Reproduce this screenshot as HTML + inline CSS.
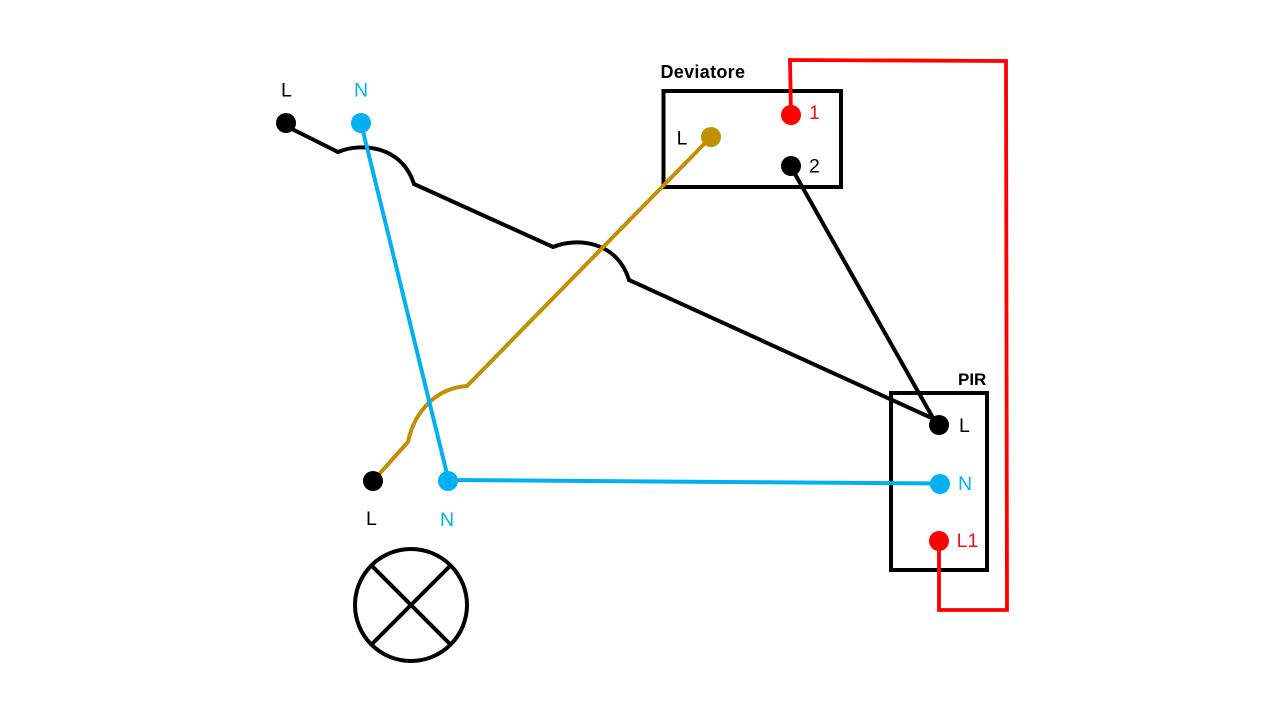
<!DOCTYPE html>
<html>
<head>
<meta charset="utf-8">
<style>
html,body{margin:0;padding:0;background:#fff;width:1280px;height:720px;overflow:hidden}
svg{display:block}
text{font-family:"Liberation Sans",sans-serif;font-size:19.5px}
text.b{font-size:18px;font-weight:bold}
</style>
</head>
<body>
<svg width="1280" height="720" viewBox="0 0 1280 720" xmlns="http://www.w3.org/2000/svg">
<rect width="1280" height="720" fill="#fff"/>
<g fill="none" stroke-width="4">
<rect x="663.5" y="91" width="177.5" height="96" stroke="#000"/>
<rect x="891" y="393" width="96" height="177" stroke="#000"/>
<!-- black L wire -->
<path d="M286 126L338 152C362 142 402 146 414 184L553 247C577 237 617 241 629 280L936 420" stroke="#000"/>
<!-- black 2 wire -->
<path d="M791 167L933 418" stroke="#000"/>
<!-- gold -->
<path d="M373 481L408 442C414 412 436 388 467 386L711 137" stroke="#BF9000"/>
<!-- blue -->
<path d="M361 123L447 474" stroke="#00B0F0"/>
<path d="M448 480L940 483.5" stroke="#00B0F0"/>
<!-- red -->
<path d="M791 115L790 60L1006 61L1007 610L939 610L939 541" stroke="#FF0000" stroke-width="3.8"/>
<!-- lamp -->
<circle cx="411" cy="605" r="56" stroke="#000"/>
<path d="M371 565L451 645M451 565L371 645" stroke="#000"/>
</g>
<circle cx="286" cy="123" r="10" fill="#000"/>
<circle cx="361" cy="123" r="10" fill="#00B0F0"/>
<circle cx="711" cy="137" r="10" fill="#BF9000"/>
<circle cx="791" cy="115" r="10" fill="#FF0000"/>
<circle cx="791" cy="166" r="10" fill="#000"/>
<circle cx="939" cy="425" r="10" fill="#000"/>
<circle cx="940" cy="484" r="10" fill="#00B0F0"/>
<circle cx="939" cy="541" r="10" fill="#FF0000"/>
<circle cx="373" cy="481" r="10" fill="#000"/>
<circle cx="448" cy="481" r="10" fill="#00B0F0"/>
<text x="281" y="96.5" fill="#000">L</text>
<text x="354" y="96.5" fill="#00B0F0">N</text>
<text class="b" x="660.5" y="78" fill="#000" textLength="84.5">Deviatore</text>
<text x="676.6" y="144.5" fill="#000">L</text>
<text x="809" y="119" fill="#E8141E">1</text>
<text x="809" y="172.5" fill="#000">2</text>
<text class="b" x="958" y="385" fill="#000" style="font-size:17px">PIR</text>
<text x="959" y="432" fill="#000">L</text>
<text x="958" y="490" fill="#00B0F0">N</text>
<text x="956.6" y="547" fill="#E8141E">L1</text>
<text x="366" y="525" fill="#000">L</text>
<text x="440" y="526" fill="#00B0F0">N</text>
</svg>
</body>
</html>
